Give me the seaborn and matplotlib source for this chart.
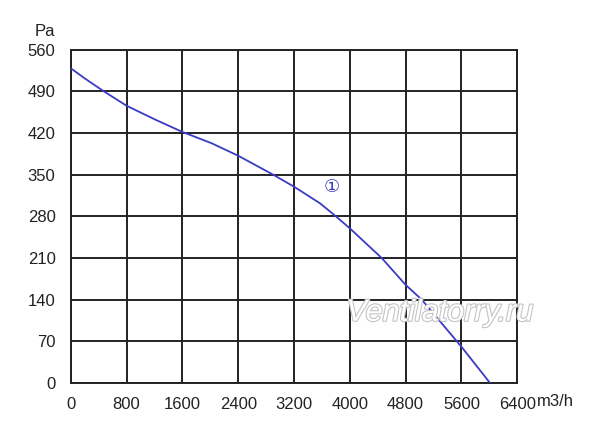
import matplotlib
matplotlib.use("Agg")
import matplotlib.pyplot as plt
import matplotlib.patheffects as pe
import pandas as pd
import seaborn as sns

# ==========================================================
# Data
# ==========================================================

flow = [0, 200, 464, 800, 1206, 1600, 2019, 2400, 2903, 3200, 3573,
        3802, 4000, 4458, 4800, 5032, 5535, 5600, 6010]
pressure = [529, 512, 491, 466, 443, 422, 403, 382, 350, 330, 302,
            280, 260, 210, 165, 140, 70, 61, 0]

x_ticks = [0, 800, 1600, 2400, 3200, 4000, 4800, 5600, 6400]
y_ticks = [0, 70, 140, 210, 280, 350, 420, 490, 560]

curve_label = "①"
watermark = "Ventilatorry.ru"

df = pd.DataFrame({"flow": flow, "pressure": pressure})

# ==========================================================
# Plot
# ==========================================================

sns.set_style("white")
plt.rcParams["font.family"] = ["Liberation Sans", "DejaVu Sans"]

fig = plt.figure(figsize=(6, 4.26), dpi=100)
ax = fig.add_axes([0.118, 0.101, 0.744, 0.782])

ax.set_xlim(0, 6400)
ax.set_ylim(0, 560)

ax.set_xticks(x_ticks)
ax.set_yticks(y_ticks)
ax.set_xticks([v + 400 for v in x_ticks[:-1]], minor=True)
ax.set_yticks([v + 35 for v in y_ticks[:-1]], minor=True)

ax.grid(True, which="major", color="#222222", linewidth=1.4)
ax.set_axisbelow(True)

for s in ax.spines.values():
    s.set_visible(True)
    s.set_color("#222222")
    s.set_linewidth(1.4)

ax.tick_params(which="major", length=0, labelsize=12, colors="#222222")
ax.tick_params(axis="x", which="major", pad=10)
ax.tick_params(axis="y", which="major", pad=11)
ax.tick_params(which="minor", direction="in", length=4, width=1, color="#222222")

sns.lineplot(data=df, x="flow", y="pressure", ax=ax,
             color="#3a3ac4", linewidth=1.3, zorder=3)

ax.set_xlabel("")
ax.set_ylabel("")

ax.text(3740, 329, curve_label, color="#3a3ac4", fontsize=13,
        ha="center", va="center", family=["DejaVu Sans"])

wm = ax.text(5290, 118, watermark, fontsize=22, style="italic",
             color="white", ha="center", va="center", zorder=4)
wm.set_path_effects([pe.Stroke(linewidth=1.6, foreground="#c4c4c4"),
                     pe.Normal()])

fig.text(35 / 600, 1 - 31 / 426, "Pa", fontsize=12, color="#222222",
         ha="left", va="center")
fig.text(537 / 600, 1 - 401 / 426, "m3/h", fontsize=12, color="#222222",
         ha="left", va="center")

fig.savefig("out.png", dpi=100)
plt.close(fig)
